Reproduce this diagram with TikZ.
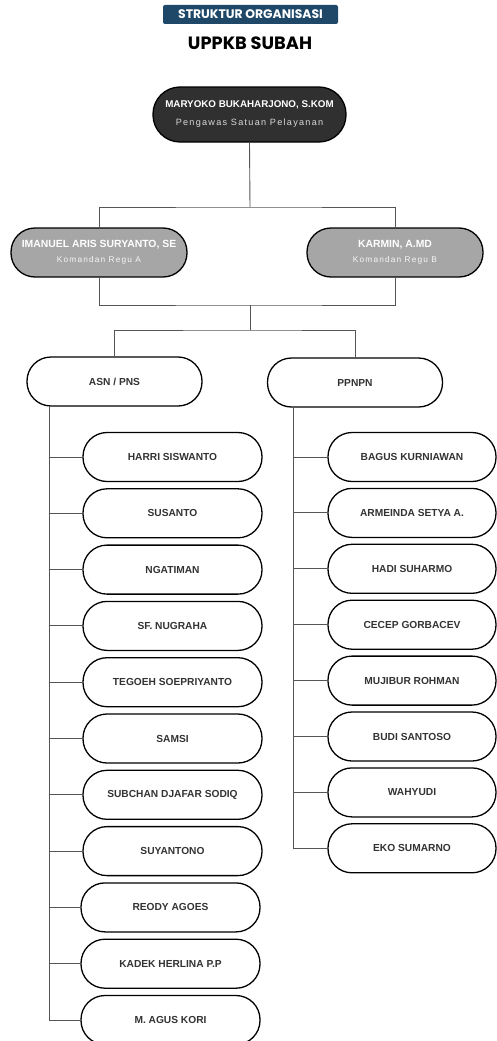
\documentclass[tikz,border=0pt]{standalone}
\usepackage{fontspec}
\setmainfont{Liberation Sans}
\newfontfamily\titlefont{Poppins}
\newfontfamily\spacedfont[LetterSpace=14]{Liberation Sans}
\definecolor{badge}{HTML}{1F4868}
\definecolor{dark}{HTML}{303030}
\definecolor{regu}{HTML}{A6A6A6}
\definecolor{txt}{HTML}{333333}
\definecolor{conn}{HTML}{555555}
\tikzset{
  pill/.style={draw=black, line width=1.3pt, rounded corners=24pt, minimum height=49pt, align=center, inner sep=0pt},
  member/.style={pill, fill=white, minimum width=179pt, text=txt, font=\bfseries\fontsize{10.2}{12}\selectfont},
  memberR/.style={member, minimum width=168pt},
  group/.style={pill, fill=white, minimum width=175pt, text=txt, font=\bfseries\fontsize{10.2}{12}\selectfont},
  chief/.style={pill, fill=regu, minimum width=176pt, text=white, font=\bfseries\fontsize{10.4}{12}\selectfont},
  wire/.style={draw=conn, line width=0.9pt},
}
\begin{document}
\begin{tikzpicture}[x=1pt,y=-1pt]
\useasboundingbox (0,0) rectangle (496,1041);
% title
\node[fill=badge, rounded corners=2pt, minimum width=175pt, minimum height=19pt, inner sep=0pt, text=white, font=\titlefont\bfseries\fontsize{12.4}{13}\selectfont] (badge) at (250.5,14.5) {STRUKTUR ORGANISASI};
\node[inner sep=0pt, font=\titlefont\bfseries\fontsize{17.8}{19}\selectfont] (title) at (250,43) {UPPKB SUBAH};
% head
\node[pill, fill=dark, minimum width=193pt, minimum height=55pt, rounded corners=27pt, text=white] (top) at (249.5,114.5)
  {{\bfseries\fontsize{9.8}{11}\selectfont MARYOKO BUKAHARJONO, S.KOM}\\[6pt]{\spacedfont\color{black!15}\fontsize{9.1}{10}\selectfont Pengawas Satuan Pelayanan}};
\node[chief] (ra) at (99,252.5) {IMANUEL ARIS SURYANTO, SE\\[3pt]{\spacedfont\mdseries\color{white!90!regu}\fontsize{8.3}{9}\selectfont Komandan Regu A}};
\node[chief] (rb) at (395,252.5) {KARMIN, A.MD\\[3pt]{\spacedfont\mdseries\color{white!90!regu}\fontsize{8.3}{9}\selectfont Komandan Regu B}};
\node[group] (asn) at (114.5,381.5) {ASN / PNS};
\node[group] (ppn) at (355,382.5) {PPNPN};
% left members
\node[member] (l1) at (172.5,457) {HARRI SISWANTO};
\node[member] (l2) at (172.5,513.3) {SUSANTO};
\node[member] (l3) at (172.5,569.6) {NGATIMAN};
\node[member] (l4) at (172.5,625.9) {SF. NUGRAHA};
\node[member] (l5) at (172.5,682.2) {TEGOEH SOEPRIYANTO};
\node[member] (l6) at (172.5,738.5) {SAMSI};
\node[member] (l7) at (172.5,794.8) {SUBCHAN DJAFAR SODIQ};
\node[member] (l8) at (172.5,851.1) {SUYANTONO};
\node[member] (l9) at (170.5,907.4) {REODY AGOES};
\node[member] (l10) at (170.5,963.7) {KADEK HERLINA P.P};
\node[member] (l11) at (170.5,1020) {M. AGUS KORI};
% right members
\node[memberR] (r1) at (412,457) {BAGUS KURNIAWAN};
\node[memberR] (r2) at (412,512.9) {ARMEINDA SETYA A.};
\node[memberR] (r3) at (412,568.8) {HADI SUHARMO};
\node[memberR] (r4) at (412,624.7) {CECEP GORBACEV};
\node[memberR] (r5) at (412,680.6) {MUJIBUR ROHMAN};
\node[memberR] (r6) at (412,736.5) {BUDI SANTOSO};
\node[memberR] (r7) at (412,792.4) {WAHYUDI};
\node[memberR] (r8) at (412,848.3) {EKO SUMARNO};
% junctions
\coordinate (j1) at (250,207);
\coordinate (j2) at (250,305);
\coordinate (j3) at (250,330);
\coordinate (ta) at ([xshift=-65.5pt]asn.south);
\coordinate (tb) at ([xshift=-62pt]ppn.south);
% connectors
\draw[wire] (top.south) -- (j1);
\draw[wire] (ra.north) |- (j1) -| (rb.north);
\draw[wire] (ra.south) |- (j2) -| (rb.south);
\draw[wire] (j2) -- (j3);
\draw[wire] (asn.north) |- (j3) -| (ppn.north);
\foreach \n in {l1,l2,l3,l4,l5,l6,l7,l8,l9,l10,l11} \draw[wire] (ta) |- (\n.west);
\foreach \n in {r1,r2,r3,r4,r5,r6,r7,r8} \draw[wire] (tb) |- (\n.west);
\end{tikzpicture}
\end{document}
